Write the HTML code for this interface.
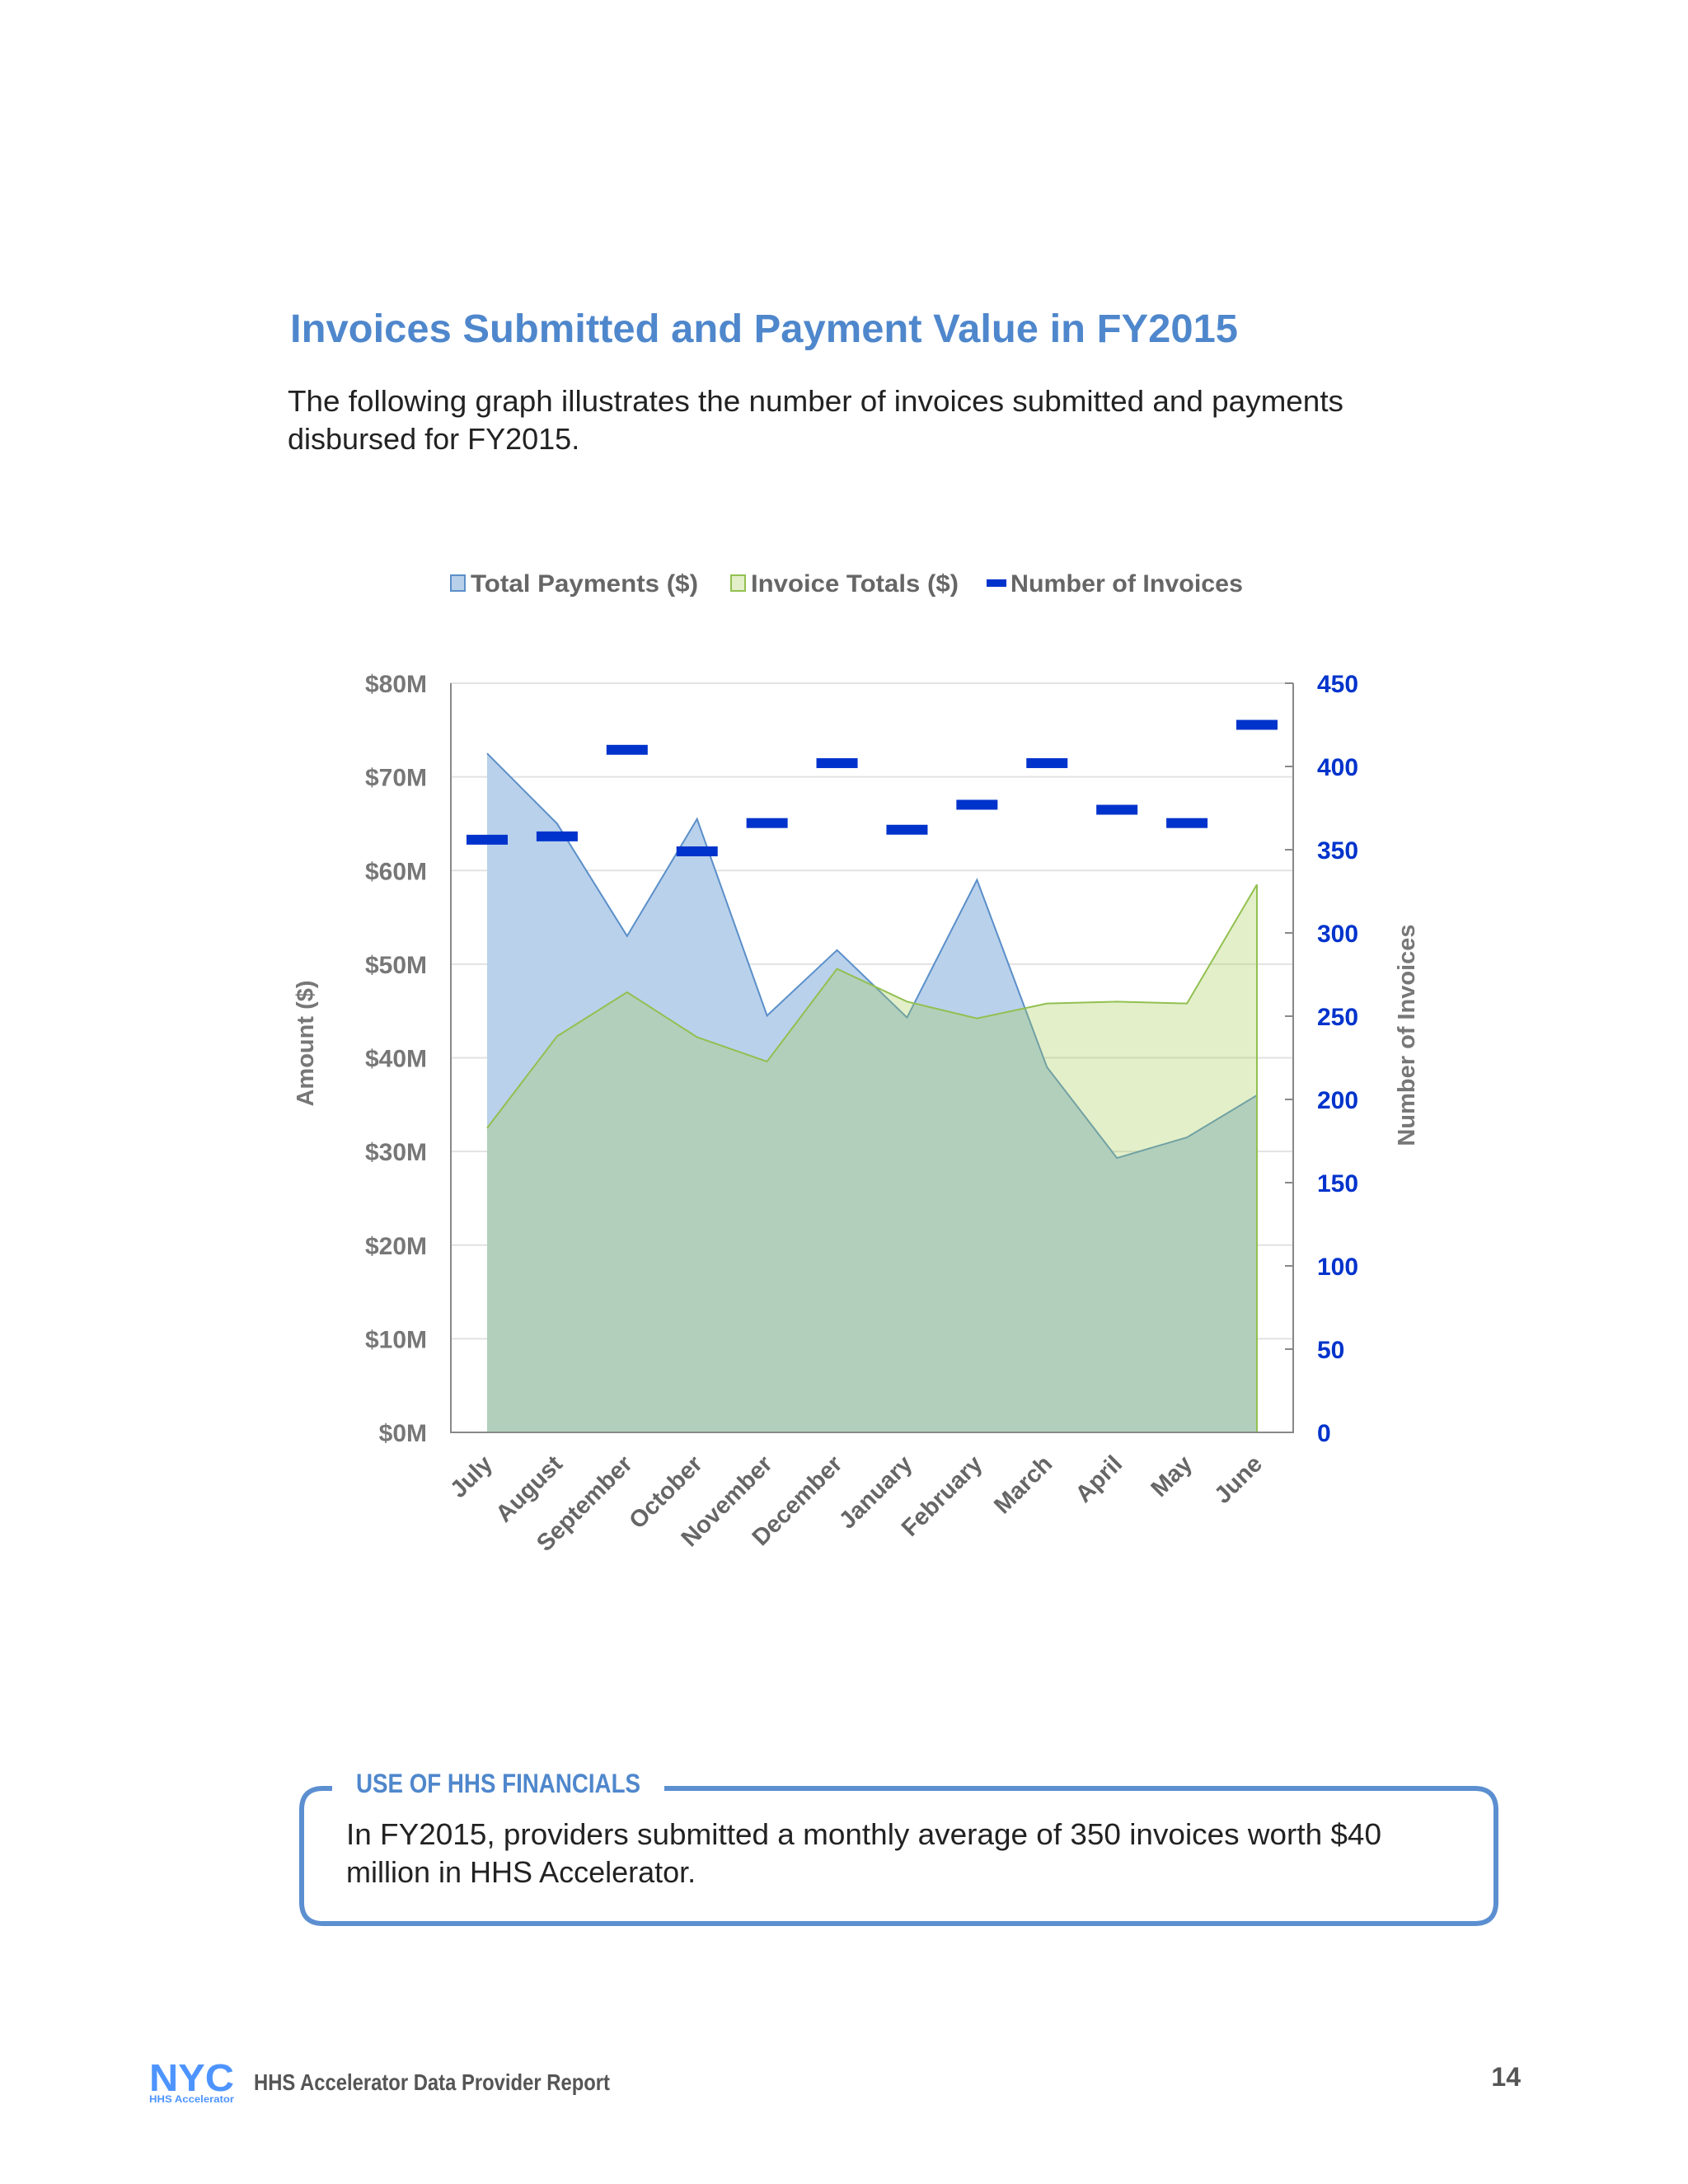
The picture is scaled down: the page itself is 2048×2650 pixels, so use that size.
<!DOCTYPE html>
<html><head><meta charset="utf-8">
<style>
html,body{margin:0;padding:0;background:#fff;}
svg{display:block;font-family:"Liberation Sans",sans-serif;}
</style></head>
<body>
<svg id="page" width="2048" height="2650" viewBox="0 0 2048 2650">
<text x="352" y="415" font-size="48" fill="#4f87cc" font-weight="bold" textLength="1150" lengthAdjust="spacingAndGlyphs">Invoices Submitted and Payment Value in FY2015</text>
<text x="349" y="499" font-size="36" fill="#222" textLength="1281" lengthAdjust="spacingAndGlyphs">The following graph illustrates the number of invoices submitted and payments</text>
<text x="349" y="545" font-size="36" fill="#222">disbursed for FY2015.</text>

<g font-size="30" font-weight="bold" fill="#666">
  <g>
    <rect x="547" y="698" width="17" height="19" fill="#b8d0ea" stroke="#5b8fc9" stroke-width="2"/>
    <text x="571" y="718" textLength="276" lengthAdjust="spacingAndGlyphs">Total Payments ($)</text></g>
  <g>
    <rect x="887" y="698" width="17" height="19" fill="#e3efc8" stroke="#92c050" stroke-width="2"/>
    <text x="911" y="718" textLength="252" lengthAdjust="spacingAndGlyphs">Invoice Totals ($)</text></g>
  <g>
    <rect x="1197" y="703" width="24" height="9" fill="#0033cc"/>
    <text x="1226" y="718" textLength="282" lengthAdjust="spacingAndGlyphs">Number of Invoices</text></g>
</g>

<g id="grid"></g>
<g id="areas"></g>
<g id="marks"></g>
<g id="axes"></g>

<text transform="translate(380,1266) rotate(-90)" text-anchor="middle" font-size="29" font-weight="bold" fill="#777">Amount ($)</text>
<text transform="translate(1716,1256) rotate(-90)" text-anchor="middle" font-size="29" font-weight="bold" fill="#777">Number of Invoices</text>

<g>
  <path d="M403 2170 L392 2170 Q366 2170 366 2196 L366 2308 Q366 2334 392 2334 L1789 2334 Q1815 2334 1815 2308 L1815 2196 Q1815 2170 1789 2170 L806 2170" fill="none" stroke="#5b8fd0" stroke-width="6"/>
  <text x="432" y="2175" font-size="32" font-weight="bold" fill="#4f87cc" textLength="345" lengthAdjust="spacingAndGlyphs">USE OF HHS FINANCIALS</text>
  <text x="420" y="2238" font-size="36" fill="#222" textLength="1256" lengthAdjust="spacingAndGlyphs">In FY2015, providers submitted a monthly average of 350 invoices worth $40</text>
  <text x="420" y="2284" font-size="36" fill="#222">million in HHS Accelerator.</text>
</g>

<g>
  <text x="181" y="2537" font-size="46" font-weight="bold" fill="#4d94ff" textLength="103" lengthAdjust="spacingAndGlyphs">NYC</text>
  <text x="181" y="2551" font-size="12" font-weight="bold" fill="#4d94ff" textLength="103" lengthAdjust="spacingAndGlyphs">HHS Accelerator</text>
  <text x="308" y="2536" font-size="28" font-weight="bold" fill="#555" textLength="432" lengthAdjust="spacingAndGlyphs">HHS Accelerator Data Provider Report</text>
  <text x="1845" y="2531" text-anchor="end" font-size="32" font-weight="bold" fill="#555">14</text>
</g>
</svg>
<script>
const months = ["July","August","September","October","November","December","January","February","March","April","May","June"];
const payments = [72.5,65,53,65.5,44.5,51.5,44.3,59,39,29.3,31.5,36];
const invoiceTotals = [32.5,42.3,47,42.2,39.6,49.5,46,44.2,45.8,46,45.8,58.5];
const invoiceCounts = [356,358,410,349,366,402,362,377,402,374,366,425];
const leftTicks = ["$0M","$10M","$20M","$30M","$40M","$50M","$60M","$70M","$80M"];
const rightTicks = ["0","50","100","150","200","250","300","350","400","450"];

const NS="http://www.w3.org/2000/svg";
const L=547,R=1569,T=829,B=1738;
const x0=591,x1=1525;
const xs=i=>x0+(x1-x0)*i/(months.length-1);
const yL=v=>B-(B-T)*v/80;
const yR=v=>B-(B-T)*v/450;
function mk(tag,attrs,parent){const e=document.createElementNS(NS,tag);for(const k in attrs)e.setAttribute(k,attrs[k]);parent.appendChild(e);return e;}
const grid=document.getElementById('grid'),areas=document.getElementById('areas'),marks=document.getElementById('marks'),axes=document.getElementById('axes');

leftTicks.forEach((t,i)=>{
  const v=i*10,y=yL(v);
  if(i>0){const g=mk('line',{x1:L,x2:R,y1:y,y2:y,stroke:'#e2e2e2','stroke-width':2},grid);
  
  }
  const tx=mk('text',{x:518,y:y+11,'text-anchor':'end','font-size':30,'font-weight':'bold',fill:'#777'},axes);
  tx.textContent=t;
  
  
});
rightTicks.forEach((t,i)=>{
  const y=yR(i*50);
  const tk=mk('line',{x1:R,x2:R-10,y1:y,y2:y,stroke:'#888','stroke-width':2},axes);
  
  
  const tx=mk('text',{x:1598,y:y+11,'font-size':30,'font-weight':'bold',fill:'#0033cc'},axes);
  tx.textContent=t;
  
  
});

function area(vals,fill,stroke,name){
  let d='M'+xs(0)+' '+B;
  vals.forEach((v,i)=>{d+=' L'+xs(i)+' '+yL(v);});
  d+=' L'+xs(vals.length-1)+' '+B+' Z';
  const p=mk('path',{d:d,fill:fill,stroke:'none'},areas);
  
  
  let ld='';vals.forEach((v,i)=>{ld+=(i?' L':'M')+xs(i)+' '+yL(v);});
  const l=mk('path',{d:ld,fill:'none',stroke:stroke,'stroke-width':2},areas);
  
  
  return p;
}
area(payments,'#b9d1eb','#5b8fc9','area-total-payments');
area(invoiceTotals,'rgba(165,204,80,0.31)','#92c050','area-invoice-totals');
const edge=mk('line',{x1:xs(11),x2:xs(11),y1:yL(invoiceTotals[11]),y2:B,stroke:'#92c050','stroke-width':2},areas);



invoiceCounts.forEach((v,i)=>{
  const r=mk('rect',{x:xs(i)-25,y:yR(v)-6,width:50,height:12,fill:'#0033cc'},marks);
  
  
});

const ax=mk('path',{d:`M${L} ${T} L${L} ${B} L${R} ${B} L${R} ${T}`,fill:'none',stroke:'#888','stroke-width':2},axes);


months.forEach((m,i)=>{
  const tx=mk('text',{transform:`translate(${xs(i)+8},${B+40}) rotate(-45)`,'text-anchor':'end','font-size':29,'font-weight':'bold',fill:'#666'},axes);
  tx.textContent=m;
  
  
});
</script>
</body></html>
